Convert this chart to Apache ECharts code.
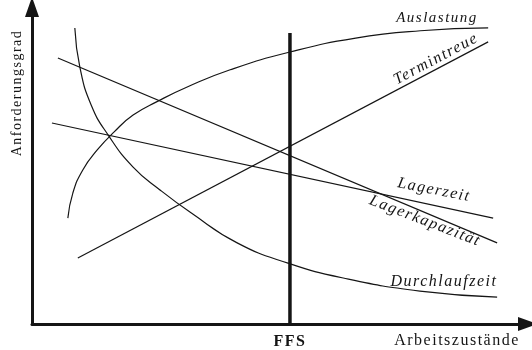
<!DOCTYPE html>
<html>
<head>
<meta charset="utf-8">
<script src="https://cdn.jsdelivr.net/npm/echarts@6/dist/echarts.min.js"></script>
<style>
  html, body { margin: 0; padding: 0; background: #fff; }
  #main { width: 532px; height: 350px; }
</style>
</head>
<body>
<div id="main"></div>
<script>
// Werte in Achseneinheiten 0..100 (x: Arbeitszustände, y: Anforderungsgrad)
const auslastung = [[7.2, 33.4], [8.2, 41.3], [10.2, 48.6], [13.1, 54.9], [16.5, 60.6], [20.3, 65.9], [25.3, 70.3], [31.5, 75.0], [39.8, 80.2], [51.8, 85.8], [65.0, 90.2], [78.0, 92.5], [91.6, 93.4]];
const durchlaufzeit = [[8.6, 93.4], [9.6, 81.1], [11.9, 69.0], [15.3, 59.6], [20.3, 49.5], [25.7, 42.3], [32.0, 35.0], [41.2, 25.6], [51.4, 19.2], [62.5, 14.5], [77.9, 10.4], [93.4, 8.5]];
const lagerzeit = [[4.0, 63.4], [92.6, 33.4]];
const lagerkapazitaet = [[5.2, 83.9], [93.4, 25.6]];
const termintreue = [[9.2, 20.8], [91.6, 89.0]];
const ffsX = 51.8;
const ffsLine = [[ffsX, 0], [ffsX, 91.8]];

const serif = '"Liberation Serif", "DejaVu Serif", serif';
const ink = '#151515';

const chart = echarts.init(document.getElementById('main'));

// Sperrsatz wie in der Vorlage
try {
    const layer = chart.getZr().painter.getLayer(0);
    if (layer && layer.ctx) layer.ctx.letterSpacing = '1.5px';
} catch (e) {}

function curve(name, data, smooth) {
    return {
        name: name,
        type: 'line',
        data: data,
        smooth: smooth,
        symbol: 'none',
        silent: true,
        lineStyle: { color: ink, width: 1.2 }
    };
}

function label(text, x, y, deg, size) {
    return {
        type: 'text',
        x: x,
        y: y,
        rotation: deg * Math.PI / 180,
        style: {
            text: text,
            align: 'center',
            verticalAlign: 'middle',
            fill: ink,
            font: 'italic ' + size + 'px ' + serif
        }
    };
}

var option = {
    animation: false,
    backgroundColor: '#fff',
    grid: { left: 32, right: 4, top: 7, bottom: 26 },
    xAxis: {
        type: 'value',
        min: 0,
        max: 99.6,
        splitLine: { show: false },
        axisTick: { show: false },
        axisLine: {
            onZero: false,
            symbol: ['none', 'triangle'],
            symbolSize: [14, 20],
            lineStyle: { color: ink, width: 3 }
        },
        axisLabel: {
            customValues: [ffsX],
            formatter: function () { return 'FFS'; },
            color: ink,
            fontFamily: serif,
            fontWeight: 'bold',
            fontSize: 16,
            margin: 10
        }
    },
    yAxis: {
        type: 'value',
        min: 0,
        max: 100,
        splitLine: { show: false },
        axisTick: { show: false },
        axisLabel: { show: false },
        axisLine: {
            show: true,
            onZero: false,
            symbol: ['none', 'triangle'],
            symbolSize: [14, 20],
            lineStyle: { color: ink, width: 3 }
        }
    },
    series: [
        curve('Auslastung', auslastung, 0.5),
        curve('Durchlaufzeit', durchlaufzeit, 0.5),
        curve('Lagerzeit', lagerzeit, false),
        curve('Lagerkapazität', lagerkapazitaet, false),
        curve('Termintreue', termintreue, false),
        {
            name: 'FFS',
            type: 'line',
            data: ffsLine,
            symbol: 'none',
            silent: true,
            lineStyle: { color: ink, width: 3.5 }
        }
    ],
    graphic: [
        {
            type: 'text',
            x: 17,
            y: 93,
            rotation: Math.PI / 2,
            style: {
                text: 'Anforderungsgrad',
                align: 'center',
                verticalAlign: 'middle',
                fill: ink,
                font: '14px ' + serif
            }
        },
        {
            type: 'text',
            x: 457,
            y: 341,
            style: {
                text: 'Arbeitszustände',
                align: 'center',
                verticalAlign: 'middle',
                fill: ink,
                font: '16px ' + serif
            }
        },
        label('Auslastung', 437, 18, 0, 15),
        label('Termintreue', 436, 59, 28, 16),
        label('Lagerzeit', 434, 190, -11, 16),
        label('Lagerkapazität', 425, 221, -21, 16),
        label('Durchlaufzeit', 444, 282, 0, 16)
    ]
};

chart.setOption(option);
</script>
</body>
</html>
